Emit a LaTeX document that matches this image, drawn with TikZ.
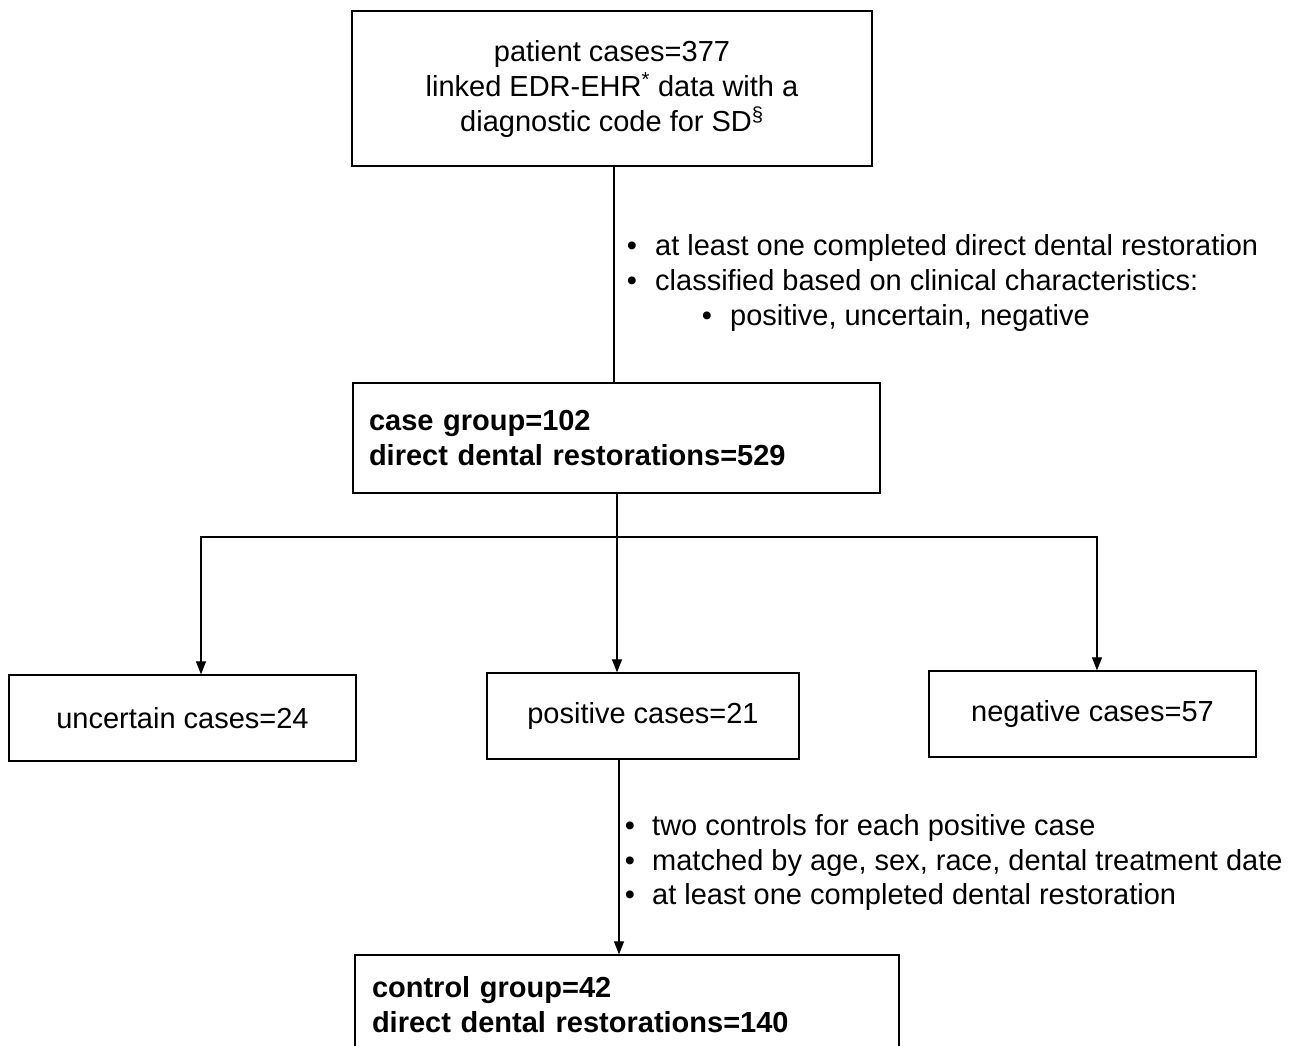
\documentclass[tikz,border=0pt]{standalone}
\usepackage{fontspec}
\setmainfont{Liberation Sans}
\usetikzlibrary{arrows.meta,calc}
\begin{document}
\begin{tikzpicture}[x=1pt,y=-1pt,
  box/.style={draw, line width=1.3pt, inner sep=0pt, font=\fontsize{29}{35}\selectfont},
  boldbox/.style={draw, line width=1.3pt, inner sep=0pt, font=\bfseries\fontsize{29}{35}\selectfont, align=left},
  arr/.style={line width=1.2pt, -{Triangle[width=10pt,length=13pt]}},
  ln/.style={line width=1.2pt},
  txt/.style={inner sep=0pt, font=\fontsize{29}{35}\selectfont}]
\clip (0,0) rectangle (1295,1045);
\fill[white] (0,0) rectangle (1295,1045);

% boxes
\node[box, minimum width=520pt, minimum height=155pt, align=center] (top) at (612,88.5)
  {patient cases=377\\ linked EDR-EHR\textsuperscript{*} data with a\\ diagnostic code for SD\textsuperscript{\S}};
\node[boldbox, minimum width=527pt, minimum height=110pt, text width=495pt] (case) at (616.5,438)
  {case group=102\\ direct dental restorations=529};
\node[box, minimum width=347pt, minimum height=86pt] (unc) at (182.5,718) {uncertain cases=24};
\node[box, minimum width=312pt, minimum height=86pt] (pos) at (643,716) {positive cases=21};
\node[box, minimum width=327pt, minimum height=86pt] (neg) at (1092.5,714) {negative cases=57};
\node[boldbox, minimum width=544pt, minimum height=100pt, text width=510pt] (ctrl) at (627,1005)
  {control group=42\\ direct dental restorations=140};

% connectors
\draw[ln] ([xshift=2pt]top.south) -- ([xshift=2pt]top.south |- case.north);
\coordinate (bus) at (617,537);
\draw[arr] (bus) -- (bus |- pos.north);
\draw[ln] (bus |- case.south) -- (bus);
\draw[arr] (bus) -| ([xshift=18.5pt]unc.north);
\draw[arr] (bus) -| ([xshift=4.5pt]neg.north);
\draw[arr] ([xshift=-24pt]pos.south) -- ([xshift=-24pt]pos.south |- ctrl.north);

% bullet text 1
\node[txt, anchor=base] (b1) at (632,255) {•};
\node[txt, anchor=base west] (t1) at (655,255) {at least one completed direct dental restoration};
\node[txt, anchor=base] (b2) at (632,290) {•};
\node[txt, anchor=base west] (t2) at (655,290) {classified based on clinical characteristics:};
\node[txt, anchor=base] (b3) at (707,325) {•};
\node[txt, anchor=base west] (t3) at (730,325) {positive, uncertain, negative};

% bullet text 2
\node[txt, anchor=base] (b4) at (630,835) {•};
\node[txt, anchor=base west] (t4) at (652,835) {two controls for each positive case};
\node[txt, anchor=base] (b5) at (630,870) {•};
\node[txt, anchor=base west] (t5) at (652,870) {matched by age, sex, race, dental treatment date};
\node[txt, anchor=base] (b6) at (630,904) {•};
\node[txt, anchor=base west] (t6) at (652,904) {at least one completed dental restoration};
\end{tikzpicture}
\end{document}
